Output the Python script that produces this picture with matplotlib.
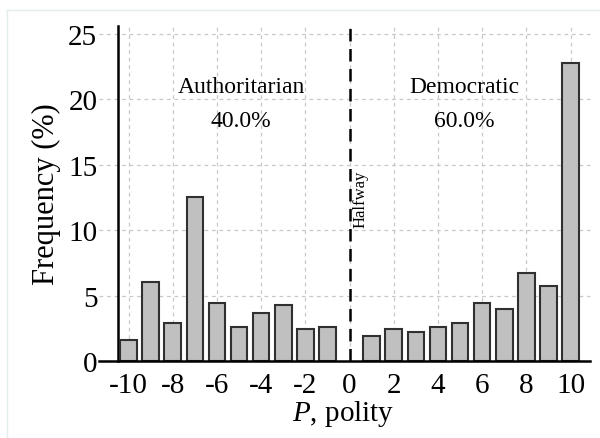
import numpy as np
import matplotlib.pyplot as plt
import matplotlib.transforms as mtransforms

polity = [-10, -9, -8, -7, -6, -5, -4, -3, -2, -1,
          1, 2, 3, 4, 5, 6, 7, 8, 9, 10]
freq = [1.6, 6.0, 2.9, 12.5, 4.4, 2.6, 3.7, 4.3, 2.45, 2.6,
        1.9, 2.45, 2.2, 2.6, 2.9, 4.4, 4.0, 6.75, 5.7, 22.75]
xticks = [-10, -8, -6, -4, -2, 0, 2, 4, 6, 8, 10]
yticks = [0, 5, 10, 15, 20, 25]

plt.rcParams['font.family'] = ['Liberation Serif', 'DejaVu Serif']
plt.rcParams['axes.unicode_minus'] = False
plt.rcParams['mathtext.fontset'] = 'custom'
plt.rcParams['mathtext.it'] = 'Liberation Serif:italic'
plt.rcParams['mathtext.rm'] = 'Liberation Serif'

fig = plt.figure(figsize=(6, 4.39), dpi=100)
ax = fig.add_axes([0.197, 0.1754, 0.786, 0.7636])

# faint frame around the figure (left and top edges only visible)
fig.add_artist(plt.Line2D([0.012, 0.012], [0, 0.975], color='#e3ecec', lw=1))
fig.add_artist(plt.Line2D([0.012, 1], [0.975, 0.975], color='#e3ecec', lw=1))

ax.bar(polity, freq, width=0.75, color='#c0c0c0', edgecolor='#303030', linewidth=1.5, zorder=3)

ax.set_xlim(-10.47, 10.87)
ax.set_ylim(0, 25.6)

# dashed grid, horizontal lines reach out past the left spine
trans = mtransforms.blended_transform_factory(ax.transAxes, ax.transData)
for y in yticks[1:]:
    ax.plot([-0.04, 1], [y, y], transform=trans, color='#c8c8c8', lw=0.9,
            ls=(0, (3, 3)), clip_on=False, zorder=1)
ax.plot([-0.04, 1], [0, 0], transform=trans, color='black', lw=1.8,
        clip_on=False, zorder=4)
for x in xticks:
    ax.axvline(x, color='#c8c8c8', lw=0.9, ls=(0, (3, 3)), zorder=1)

ax.axvline(0, color='black', lw=1.8, ls=(0, (5, 3)), zorder=4)
ax.text(0.5, 12.4, 'Halfway', rotation=90, ha='center', va='center', fontsize=12)

ax.text(-4.9, 21.0, 'Authoritarian', ha='center', va='center', fontsize=17)
ax.text(-4.9, 18.4, '40.0%', ha='center', va='center', fontsize=17)
ax.text(5.2, 21.0, 'Democratic', ha='center', va='center', fontsize=17)
ax.text(5.2, 18.4, '60.0%', ha='center', va='center', fontsize=17)

ax.set_xticks(xticks)
ax.set_yticks(yticks)
ax.tick_params(axis='x', length=0, pad=8, labelsize=21)
ax.tick_params(axis='y', length=0, pad=15, labelsize=21)

for s in ['top', 'right', 'bottom']:
    ax.spines[s].set_visible(False)
ax.spines['left'].set_linewidth(1.8)

ax.set_xlabel('$P$, polity', fontsize=21, labelpad=0, x=0.476)
ax.set_ylabel('Frequency (%)', fontsize=22, labelpad=5)

fig.savefig('out.png', dpi=100)
